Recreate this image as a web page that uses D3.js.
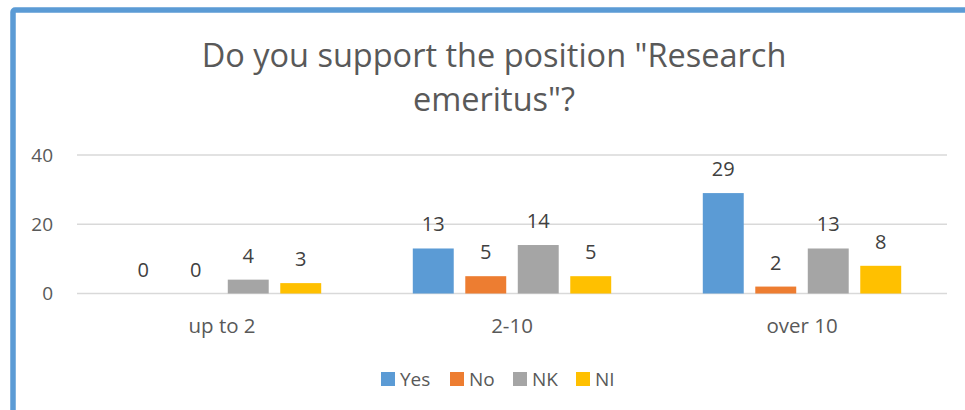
<!DOCTYPE html>
<html>
<head>
<meta charset="utf-8">
<script src="https://cdn.jsdelivr.net/npm/d3@7"></script>
<style>
  body { margin: 0; background: #fff; }
  svg { display: block; font-family: "Open Sans", sans-serif; }
</style>
</head>
<body>
<div id="chart"></div>
<script>
// chart data
const categories = ["up to 2", "2-10", "over 10"];
const seriesNames = ["Yes", "No", "NK", "NI"];
const seriesColors = ["#5B9BD5", "#ED7D31", "#A5A5A5", "#FFC000"];
const yesValues = [0, 13, 29];
const noValues = [0, 5, 2];
const nkValues = [4, 14, 13];
const niValues = [3, 5, 8];
const yTicks = [0, 20, 40];
const titleLines = ["Do you support the position \"Research", "emeritus\"?"];

const W = 965, H = 410;
const plot = {left: 77, right: 947, top: 155, bottom: 293.5};
const FONT = "'Open Sans', sans-serif";

const svg = d3.select("#chart")
    .append("svg")
      .attr("width", W)
      .attr("height", H);

// blue selection frame (right and bottom run off the picture)
svg.append("rect")
    .attr("x", 13).attr("y", 10)
    .attr("width", 1000).attr("height", 500)
    .attr("rx", 2)
    .attr("fill", "none")
    .attr("stroke", "#5B9BD5")
    .attr("stroke-width", 5.5);

// title, one text per line
svg.append("g")
    .selectAll("text")
    .data(titleLines)
    .enter()
    .append("text")
      .attr("x", 494)
      .attr("y", (d, i) => 67 + i * 44)
      .attr("text-anchor", "middle")
      .attr("fill", "#595959")
      .attr("font-size", 32.5)
      .text(d => d);

const y = d3.scaleLinear().domain([0, 40]).range([plot.bottom, plot.top]);

const x0 = d3.scaleBand()
    .domain(categories)
    .range([plot.left, plot.right])
    .paddingInner(0.276)
    .paddingOuter(0.138);

const x1 = d3.scaleBand()
    .domain(seriesNames)
    .range([0, x0.bandwidth()])
    .paddingInner(0.22)
    .paddingOuter(0.11);

const color = d3.scaleOrdinal().domain(seriesNames).range(seriesColors);

// gridlines
svg.append("g")
    .selectAll("line")
    .data(yTicks)
    .enter()
    .append("line")
      .attr("x1", plot.left).attr("x2", plot.right)
      .attr("y1", d => y(d)).attr("y2", d => y(d))
      .attr("stroke", "#d9d9d9")
      .attr("stroke-width", 1.5);

// y axis labels
const yAxis = d3.axisLeft(y).tickValues(yTicks).tickSize(0).tickPadding(24);
const gy = svg.append("g")
    .attr("transform", "translate(" + plot.left + ",0)")
    .call(yAxis);
gy.select(".domain").remove();
gy.selectAll("text")
    .attr("font-family", FONT)
    .attr("font-size", 19)
    .attr("fill", "#595959");

// x axis labels
const xAxis = d3.axisBottom(x0).tickSize(0);
const gx = svg.append("g")
    .attr("transform", "translate(0," + plot.bottom + ")")
    .call(xAxis);
gx.select(".domain").remove();
gx.selectAll("text")
    .attr("y", 39.5)
    .attr("dy", 0)
    .attr("font-family", FONT)
    .attr("font-size", 20.5)
    .attr("fill", "#595959");

// build rows from series arrays
const seriesValues = [yesValues, noValues, nkValues, niValues];
const rows = categories.map((c, ci) => ({
    category: c,
    values: seriesNames.map((s, si) => ({series: s, value: seriesValues[si][ci]}))
}));

const groups = svg.append("g")
    .selectAll("g")
    .data(rows)
    .enter()
    .append("g")
      .attr("transform", d => "translate(" + x0(d.category) + ",0)");

groups.selectAll("rect")
    .data(d => d.values)
    .enter()
    .append("rect")
      .attr("x", d => x1(d.series))
      .attr("y", d => y(d.value))
      .attr("width", x1.bandwidth())
      .attr("height", d => y(0) - y(d.value))
      .attr("fill", d => color(d.series));

groups.selectAll("text")
    .data(d => d.values)
    .enter()
    .append("text")
      .attr("x", d => x1(d.series) + x1.bandwidth() / 2)
      .attr("y", d => y(d.value) - 17)
      .attr("text-anchor", "middle")
      .attr("font-size", 20)
      .attr("fill", "#404040")
      .text(d => d.value);

// legend
const legendX = [381, 450, 513, 576];
const legend = svg.append("g")
    .selectAll("g")
    .data(seriesNames)
    .enter()
    .append("g")
      .attr("transform", (d, i) => "translate(" + legendX[i] + ",372)");

legend.append("rect")
    .attr("width", 14).attr("height", 14)
    .attr("fill", d => color(d));

legend.append("text")
    .attr("x", 19).attr("y", 14)
    .attr("font-size", 19)
    .attr("fill", "#595959")
    .text(d => d);
</script>
</body>
</html>
